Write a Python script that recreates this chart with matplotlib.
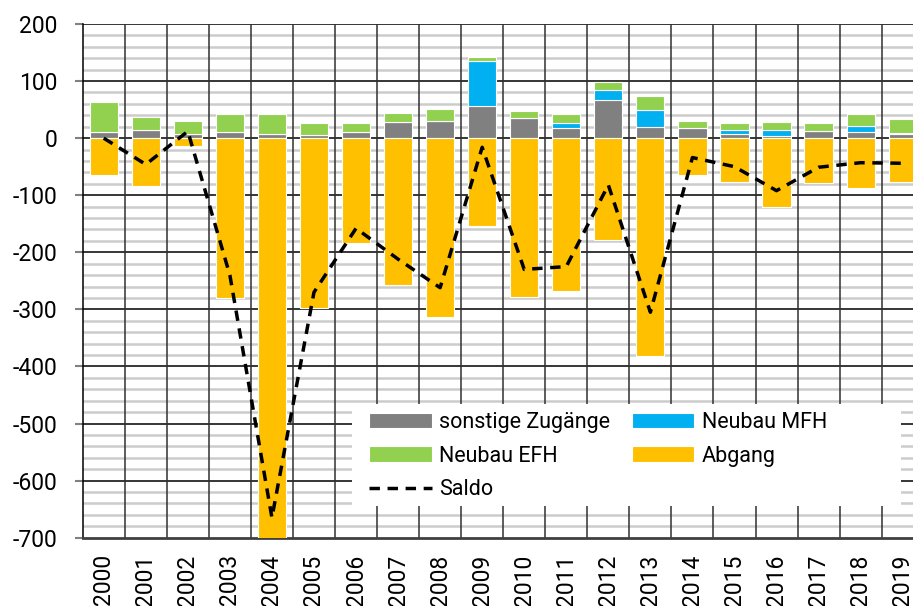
import matplotlib
matplotlib.use("Agg")
import matplotlib.pyplot as plt
from matplotlib import font_manager
from matplotlib.patches import Rectangle
import numpy as np

# pick a narrow-ish sans if available
font = "DejaVu Sans"
for f in ["Liberation Sans Narrow", "Roboto", "Liberation Sans"]:
    try:
        font_manager.findfont(f, fallback_to_default=False)
        font = f
        break
    except Exception:
        pass
plt.rcParams["font.family"] = [font, "DejaVu Sans"]

years = [str(y) for y in range(2000, 2020)]
sonstige = [10, 15, 8, 10, 8, 5, 10, 28, 30, 57, 36, 17.5, 67, 19, 17.5, 7, 3.5, 12, 10, 8]
neubau_mfh = [0, 0, 0, 0, 0, 0, 0, 0, 0, 77.5, 0, 8.5, 17, 31, 0, 6.5, 10, 0, 12, 1.5]
neubau_efh = [54, 22.5, 22, 33, 34, 21, 16, 16, 21.5, 8.5, 11, 17, 14, 24, 12.5, 13.5, 14.5, 15, 21, 23.5]
abgang = [-65, -84, -14, -280, -707, -298, -184, -258, -314, -154, -278, -268, -179, -382, -64, -77, -121, -78, -86.5, -77]
saldo = [0, -46, 12, -240, -665, -270, -158, -212, -262, -16, -230, -225, -82, -305, -34, -50, -92, -51, -43, -44]

c_gray = "#808080"
c_blue = "#00b0f0"
c_green = "#92d050"
c_orange = "#ffc000"

W, H = 913, 606
fig = plt.figure(figsize=(W / 100, H / 100), dpi=100)
ax = fig.add_axes([82.7 / W, (H - 537.7) / H, 841 / W, 513.7 / H])

x = np.arange(len(years))
s = np.array(sonstige)
m = np.array(neubau_mfh)
e = np.array(neubau_efh)
bw = 0.67
kw = dict(width=bw, edgecolor="white", linewidth=0.8, zorder=3)
ax.bar(x, s, color=c_gray, label="sonstige Zugänge", **kw)
ax.bar(x, m, bottom=s, color=c_blue, label="Neubau MFH", **kw)
ax.bar(x, e, bottom=s + m, color=c_green, label="Neubau EFH", **kw)
ax.bar(x, abgang, color=c_orange, label="Abgang", **kw)
ax.plot(x, saldo, color="black", lw=2.5, linestyle=(0, (3, 2.2)), zorder=5, label="Saldo")

ax.set_xlim(-0.5, len(years) - 0.5)
ax.set_ylim(-700, 200)

# grid
for v in range(-680, 200, 20):
    if v % 100 != 0:
        ax.axhline(v, color="#cccccc", lw=1.8, zorder=1)
for v in range(-600, 201, 100):
    ax.axhline(v, color="black", lw=1.1, zorder=2)
for i in range(1, len(years)):
    ax.axvline(i - 0.5, color="#303030", lw=1.1, zorder=2)

for sp in ["top", "right"]:
    ax.spines[sp].set_visible(False)
ax.spines["left"].set_color("black")
ax.spines["left"].set_linewidth(1.1)
ax.spines["bottom"].set_color("#404040")
ax.spines["bottom"].set_linewidth(2)

ax.set_yticks(range(-700, 201, 100))
ax.set_yticklabels([str(v) for v in range(-700, 201, 100)])
ax.tick_params(axis="y", length=6, width=1.5, color="#808080", pad=12, labelsize=16.5)
ax.set_xticks(x)
ax.set_xticklabels(years, rotation=90)
ax.tick_params(axis="x", length=0, pad=12, labelsize=16.5)

# legend background box
fig.patches.append(Rectangle((352 / W, (H - 506) / H), (901 - 352) / W, 102 / H,
                             transform=fig.transFigure, facecolor="white",
                             edgecolor="none", zorder=6))
handles, labels = ax.get_legend_handles_labels()
hd = dict(zip(labels, handles))
order = ["sonstige Zugänge", "Neubau EFH", "Saldo", "Neubau MFH", "Abgang"]
leg = fig.legend([hd[k] for k in order], order, ncol=2, loc="upper left",
                 bbox_to_anchor=(354 / W, (H - 397) / H), frameon=False,
                 fontsize=15.5, handlelength=2.9, handleheight=0.7,
                 handletextpad=0.35, columnspacing=1.0, labelspacing=0.58,
                 borderpad=0.2)
leg.set_zorder(7)

fig.savefig("out.png", dpi=100)
